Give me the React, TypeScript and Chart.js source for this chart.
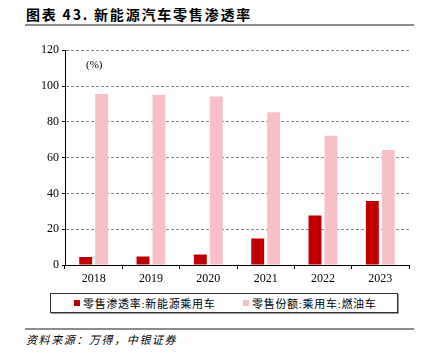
import React, { useEffect, useRef } from "react";
import { Chart, registerables } from "chart.js";

Chart.register(...registerables);

const years = ["2018", "2019", "2020", "2021", "2022", "2023"];
const nevPenetration = [4.4, 4.7, 5.8, 14.8, 27.6, 35.7];
const fuelShare = [95.5, 95.0, 94.2, 85.3, 72.2, 64.3];
const seriesNames = ["零售渗透率:新能源乘用车", "零售份额:乘用车:燃油车"];
const seriesColors = ["#C00000", "#F7C0C7"];
const yTicks = [0, 20, 40, 60, 80, 100, 120];

const serif = "'Liberation Serif', 'Times New Roman', serif";
const cjk = "'Liberation Serif', 'Noto Sans CJK SC', serif";

export default function App() {
  const canvasRef = useRef<HTMLCanvasElement | null>(null);

  useEffect(() => {
    if (!canvasRef.current) return;
    const chart = new Chart(canvasRef.current, {
      type: "bar",
      data: {
        labels: years,
        datasets: [
          {
            label: seriesNames[0],
            data: nevPenetration,
            backgroundColor: seriesColors[0],
            categoryPercentage: 0.557,
            barPercentage: 0.81,
          },
          {
            label: seriesNames[1],
            data: fuelShare,
            backgroundColor: seriesColors[1],
            categoryPercentage: 0.557,
            barPercentage: 0.81,
          },
        ],
      },
      options: {
        animation: false,
        responsive: true,
        maintainAspectRatio: false,
        layout: { padding: { top: 9, right: 13, left: 0, bottom: 0 } },
        plugins: { legend: { display: false }, tooltip: { enabled: false } },
        scales: {
          x: {
            offset: true,
            grid: {
              display: true,
              drawOnChartArea: false,
              offset: true,
              tickLength: 4,
              color: "#000",
              tickColor: "#000",
            },
            border: { display: true, color: "#000", width: 1 },
            ticks: {
              color: "#000",
              padding: 3,
              font: { family: serif, size: 12 },
            },
            afterFit: (s: any) => {
              s.height = 25;
            },
          },
          y: {
            min: 0,
            max: 120,
            afterBuildTicks: (s: any) => {
              s.ticks = yTicks.map((v) => ({ value: v }));
            },
            grid: {
              color: "#8a8a8a",
              lineWidth: 1,
              tickLength: 3,
              tickColor: "#000",
              tickBorderDash: [],
            },
            border: { display: true, color: "#000", width: 1, dash: [3, 2] },
            ticks: {
              color: "#000",
              padding: 3,
              font: { family: serif, size: 12 },
            },
            afterFit: (s: any) => {
              s.width = 65;
            },
          },
        },
      },
    });
    return () => chart.destroy();
  }, []);

  return (
    <div style={{ position: "relative", width: 422, height: 358, margin: -8, background: "#fff", overflow: "hidden" }}>
      <div
        style={{
          position: "absolute",
          left: 26,
          top: 5,
          fontFamily: "'Noto Sans CJK SC', sans-serif",
          fontWeight: 700,
          fontSize: 14,
          letterSpacing: 1.8,
          color: "#000",
          whiteSpace: "nowrap",
          lineHeight: "18px",
        }}
      >
        图表 43. 新能源汽车零售渗透率
      </div>
      <div style={{ position: "absolute", left: 25, top: 24, width: 397, height: 2, background: "#8c8c8c" }} />
      <div style={{ position: "absolute", left: 0, top: 40, width: 422, height: 250 }}>
        <canvas ref={canvasRef} />
      </div>
      <div
        style={{
          position: "absolute",
          left: 86,
          top: 57,
          fontFamily: cjk,
          fontSize: 11,
          color: "#000",
          lineHeight: "14px",
        }}
      >
        (%)
      </div>
      <div
        style={{
          position: "absolute",
          left: 50,
          top: 293,
          width: 346,
          height: 18,
          border: "1px solid #333",
          boxShadow: "1px 1px 0 #999",
        }}
      >
        {seriesNames.map((n, i) => (
          <div
            key={n}
            style={{
              position: "absolute",
              left: i === 0 ? 23 : 192,
              top: 0,
              height: 18,
              display: "flex",
              alignItems: "center",
              whiteSpace: "nowrap",
            }}
          >
            <span style={{ display: "inline-block", width: 6, height: 6, background: seriesColors[i], marginRight: 3 }} />
            <span style={{ fontFamily: cjk, fontSize: 11, letterSpacing: 0.7, color: "#000" }}>{n}</span>
          </div>
        ))}
      </div>
      <div style={{ position: "absolute", left: 25, top: 328, width: 397, height: 2, background: "#8c8c8c" }} />
      <div
        style={{
          position: "absolute",
          left: 26,
          top: 333,
          fontFamily: cjk,
          fontStyle: "italic",
          fontSize: 11,
          letterSpacing: 1.6,
          color: "#000",
          whiteSpace: "nowrap",
          lineHeight: "14px",
        }}
      >
        资料来源：万得，中银证券
      </div>
    </div>
  );
}
